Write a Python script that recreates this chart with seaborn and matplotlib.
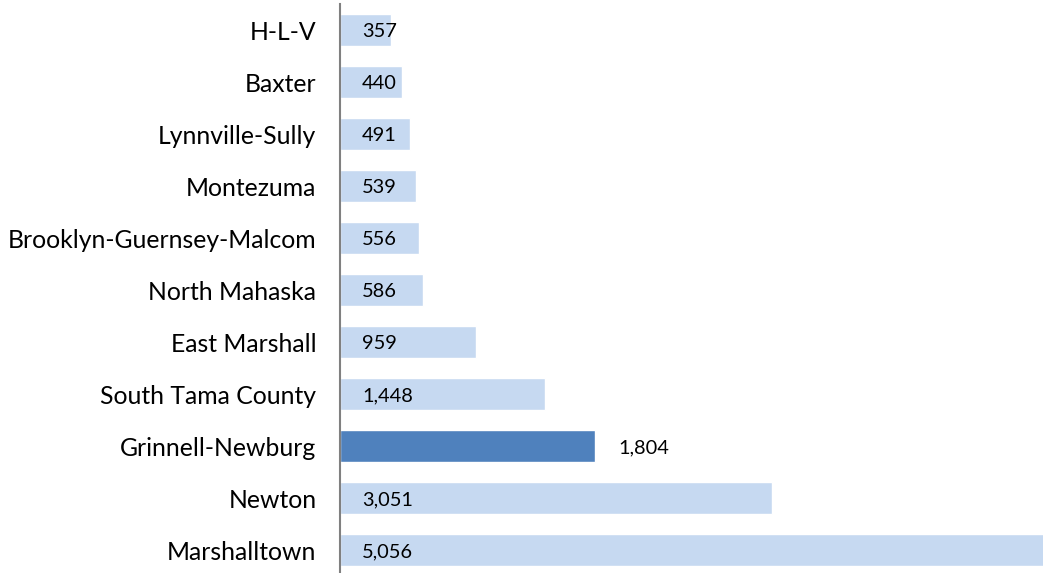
import pandas as pd
import matplotlib.pyplot as plt
import seaborn as sns

# Chart data
districts = ['H-L-V', 'Baxter', 'Lynnville-Sully', 'Montezuma', 'Brooklyn-Guernsey-Malcom',
             'North Mahaska', 'East Marshall', 'South Tama County', 'Grinnell-Newburg',
             'Newton', 'Marshalltown']
enrollment = [357, 440, 491, 539, 556, 586, 959, 1448, 1804, 3051, 5056]
highlight = 'Grinnell-Newburg'

df = pd.DataFrame({'district': districts, 'value': enrollment})

sns.set_style('white')
plt.rcParams['font.family'] = ['Lato', 'DejaVu Sans']

fig = plt.figure(figsize=(10.43, 5.73), dpi=100)
ax = fig.add_axes([340 / 1043, -3 / 573, 703 / 1043, 572 / 573])

colors = {d: ('#4F81BD' if d == highlight else '#C6D9F1') for d in districts}
sns.barplot(data=df, y='district', x='value', hue='district', palette=colors,
            orient='h', width=0.63, legend=False, ax=ax, saturation=1)

# largest bar runs off the right edge, as in the original
ax.set_xlim(0, 4965)
ax.set_ylim(10.5, -0.5)
ax.set_xlabel('')
ax.set_ylabel('')
ax.set_xticks([])

for s in ['top', 'right', 'bottom']:
    ax.spines[s].set_visible(False)
ax.spines['left'].set_color('#808080')
ax.spines['left'].set_linewidth(1.5)

ax.tick_params(axis='y', length=0, pad=17, labelsize=17.8, labelcolor='black')

# Value labels: inside the bar, except the highlighted one placed past its end
for i, (d, v) in enumerate(zip(districts, enrollment)):
    if d == highlight:
        ax.annotate(f'{v:,}', (v, i), xytext=(23, 0), textcoords='offset pixels',
                    va='center_baseline', ha='left', fontsize=14.4, color='black')
    else:
        ax.annotate(f'{v:,}', (0, i), xytext=(22, 0), textcoords='offset pixels',
                    va='center_baseline', ha='left', fontsize=14.4, color='black')

fig.savefig('out.png', dpi=100)
